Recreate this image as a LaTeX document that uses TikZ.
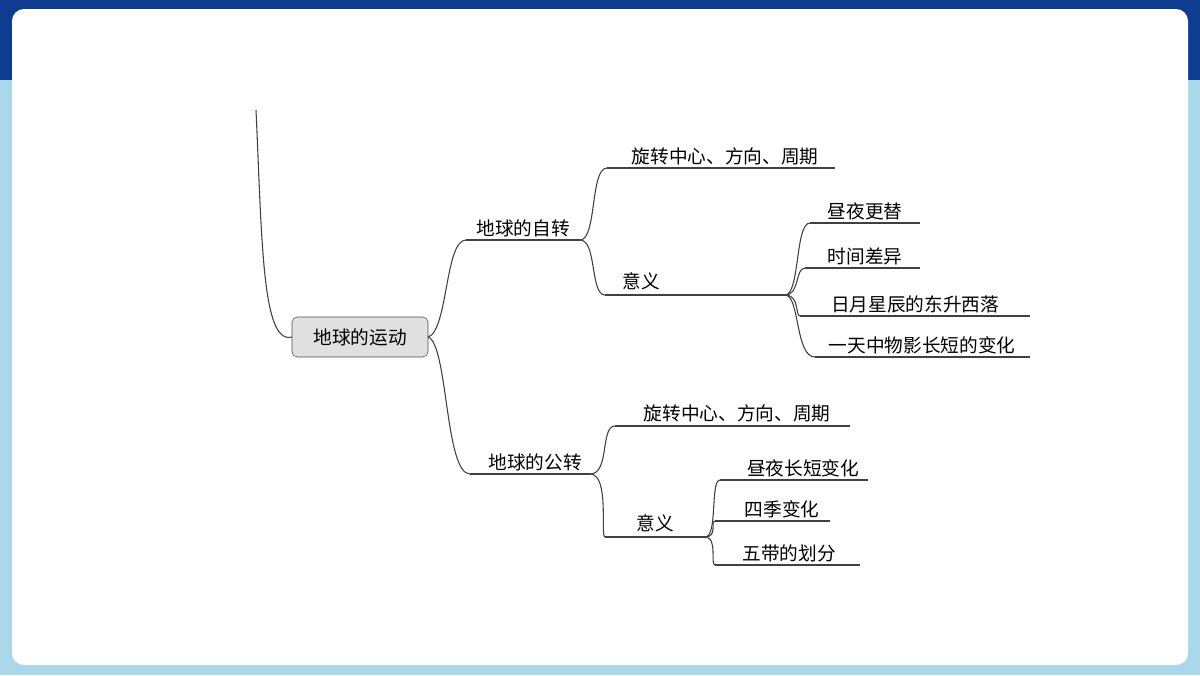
\documentclass[tikz,border=0pt]{standalone}
\usepackage{fontspec}
\newfontfamily\cjk{Noto Sans CJK SC}
\begin{document}
\begin{tikzpicture}[x=0.75pt,y=-0.75pt,
  lab/.style={font=\cjk\fontsize{14}{16}\selectfont,inner sep=1pt,anchor=south},
  ln/.style={draw=black!75,line width=0.8pt}]
\useasboundingbox (0,0) rectangle (1200,675);
\fill[fill={rgb,255:red,170;green,216;blue,234}] (0,0) rectangle (1200,675);
\fill[fill={rgb,255:red,14;green,60;blue,145}] (0,0) rectangle (1200,80);
\fill[white,rounded corners=9pt] (12,9) rectangle (1188,665);
% root
\node[draw=black!70,fill=black!12,rounded corners=4pt,minimum width=102pt,minimum height=30pt,font=\cjk\fontsize{14}{16}\selectfont] (root) at (360,337) {地球的运动};
\coordinate (top) at (256,110);
\draw[ln] (top) .. controls (262,240) and (262,345) .. (root.west);
% coordinates of underlines
\coordinate (zA) at (466,240); \coordinate (zB) at (580,240);
\coordinate (gA) at (470,474); \coordinate (gB) at (590,474);
\coordinate (z1A) at (607,168); \coordinate (z1B) at (835,168);
\coordinate (z2A) at (605,295); \coordinate (z2B) at (785,295);
\coordinate (a1A) at (810,223); \coordinate (a1B) at (920,223);
\coordinate (a2A) at (805,268); \coordinate (a2B) at (920,268);
\coordinate (a3A) at (800,316); \coordinate (a3B) at (1030,316);
\coordinate (a4A) at (815,357); \coordinate (a4B) at (1030,357);
\coordinate (g1A) at (615,426); \coordinate (g1B) at (850,426);
\coordinate (g2A) at (605,537); \coordinate (g2B) at (705,537);
\coordinate (b1A) at (720,480); \coordinate (b1B) at (868,480);
\coordinate (b2A) at (715,521); \coordinate (b2B) at (830,521);
\coordinate (b3A) at (715,565); \coordinate (b3B) at (860,565);
\foreach \p in {z,g,z1,z2,a1,a2,a3,a4,g1,g2,b1,b2,b3}{\draw[ln] (\p A) -- (\p B);}
% labels
\node[lab] (n1) at (523,239) {地球的自转};
\node[lab] (n2) at (535,473) {地球的公转};
\node[lab] (n11) at (725,167) {旋转中心、方向、周期};
\node[lab] (n12) at (641,292) {意义};
\node[lab] (m1) at (865,222) {昼夜更替};
\node[lab] (m2) at (865,267) {时间差异};
\node[lab] (m3) at (915,315) {日月星辰的东升西落};
\node[lab] (m4) at (922,356) {一天中物影长短的变化};
\node[lab] (n21) at (737,424) {旋转中心、方向、周期};
\node[lab] (n22) at (655,534) {意义};
\node[lab] (k1) at (803,479) {昼夜长短变化};
\node[lab] (k2) at (782,520) {四季变化};
\node[lab] (k3) at (789,564) {五带的划分};
% connectors
\draw[ln] (root.east) .. controls (448,330) and (445,240) .. (zA);
\draw[ln] (root.east) .. controls (448,345) and (445,474) .. (gA);
\draw[ln] (zB) .. controls (597,240) and (590,168) .. (z1A);
\draw[ln] (zB) .. controls (597,240) and (590,295) .. (z2A);
\foreach \t in {a1,a2,a3,a4}{\draw[ln] (z2B) .. controls (800,295) and (795,0|-\t A) .. (\t A);}
\draw[ln] (gB) .. controls (610,474) and (600,426) .. (g1A);
\draw[ln] (gB) .. controls (610,474) and (600,537) .. (g2A);
\foreach \t in {b1,b2,b3}{\draw[ln] (g2B) .. controls (718,537) and (710,0|-\t A) .. (\t A);}
\end{tikzpicture}
\end{document}
